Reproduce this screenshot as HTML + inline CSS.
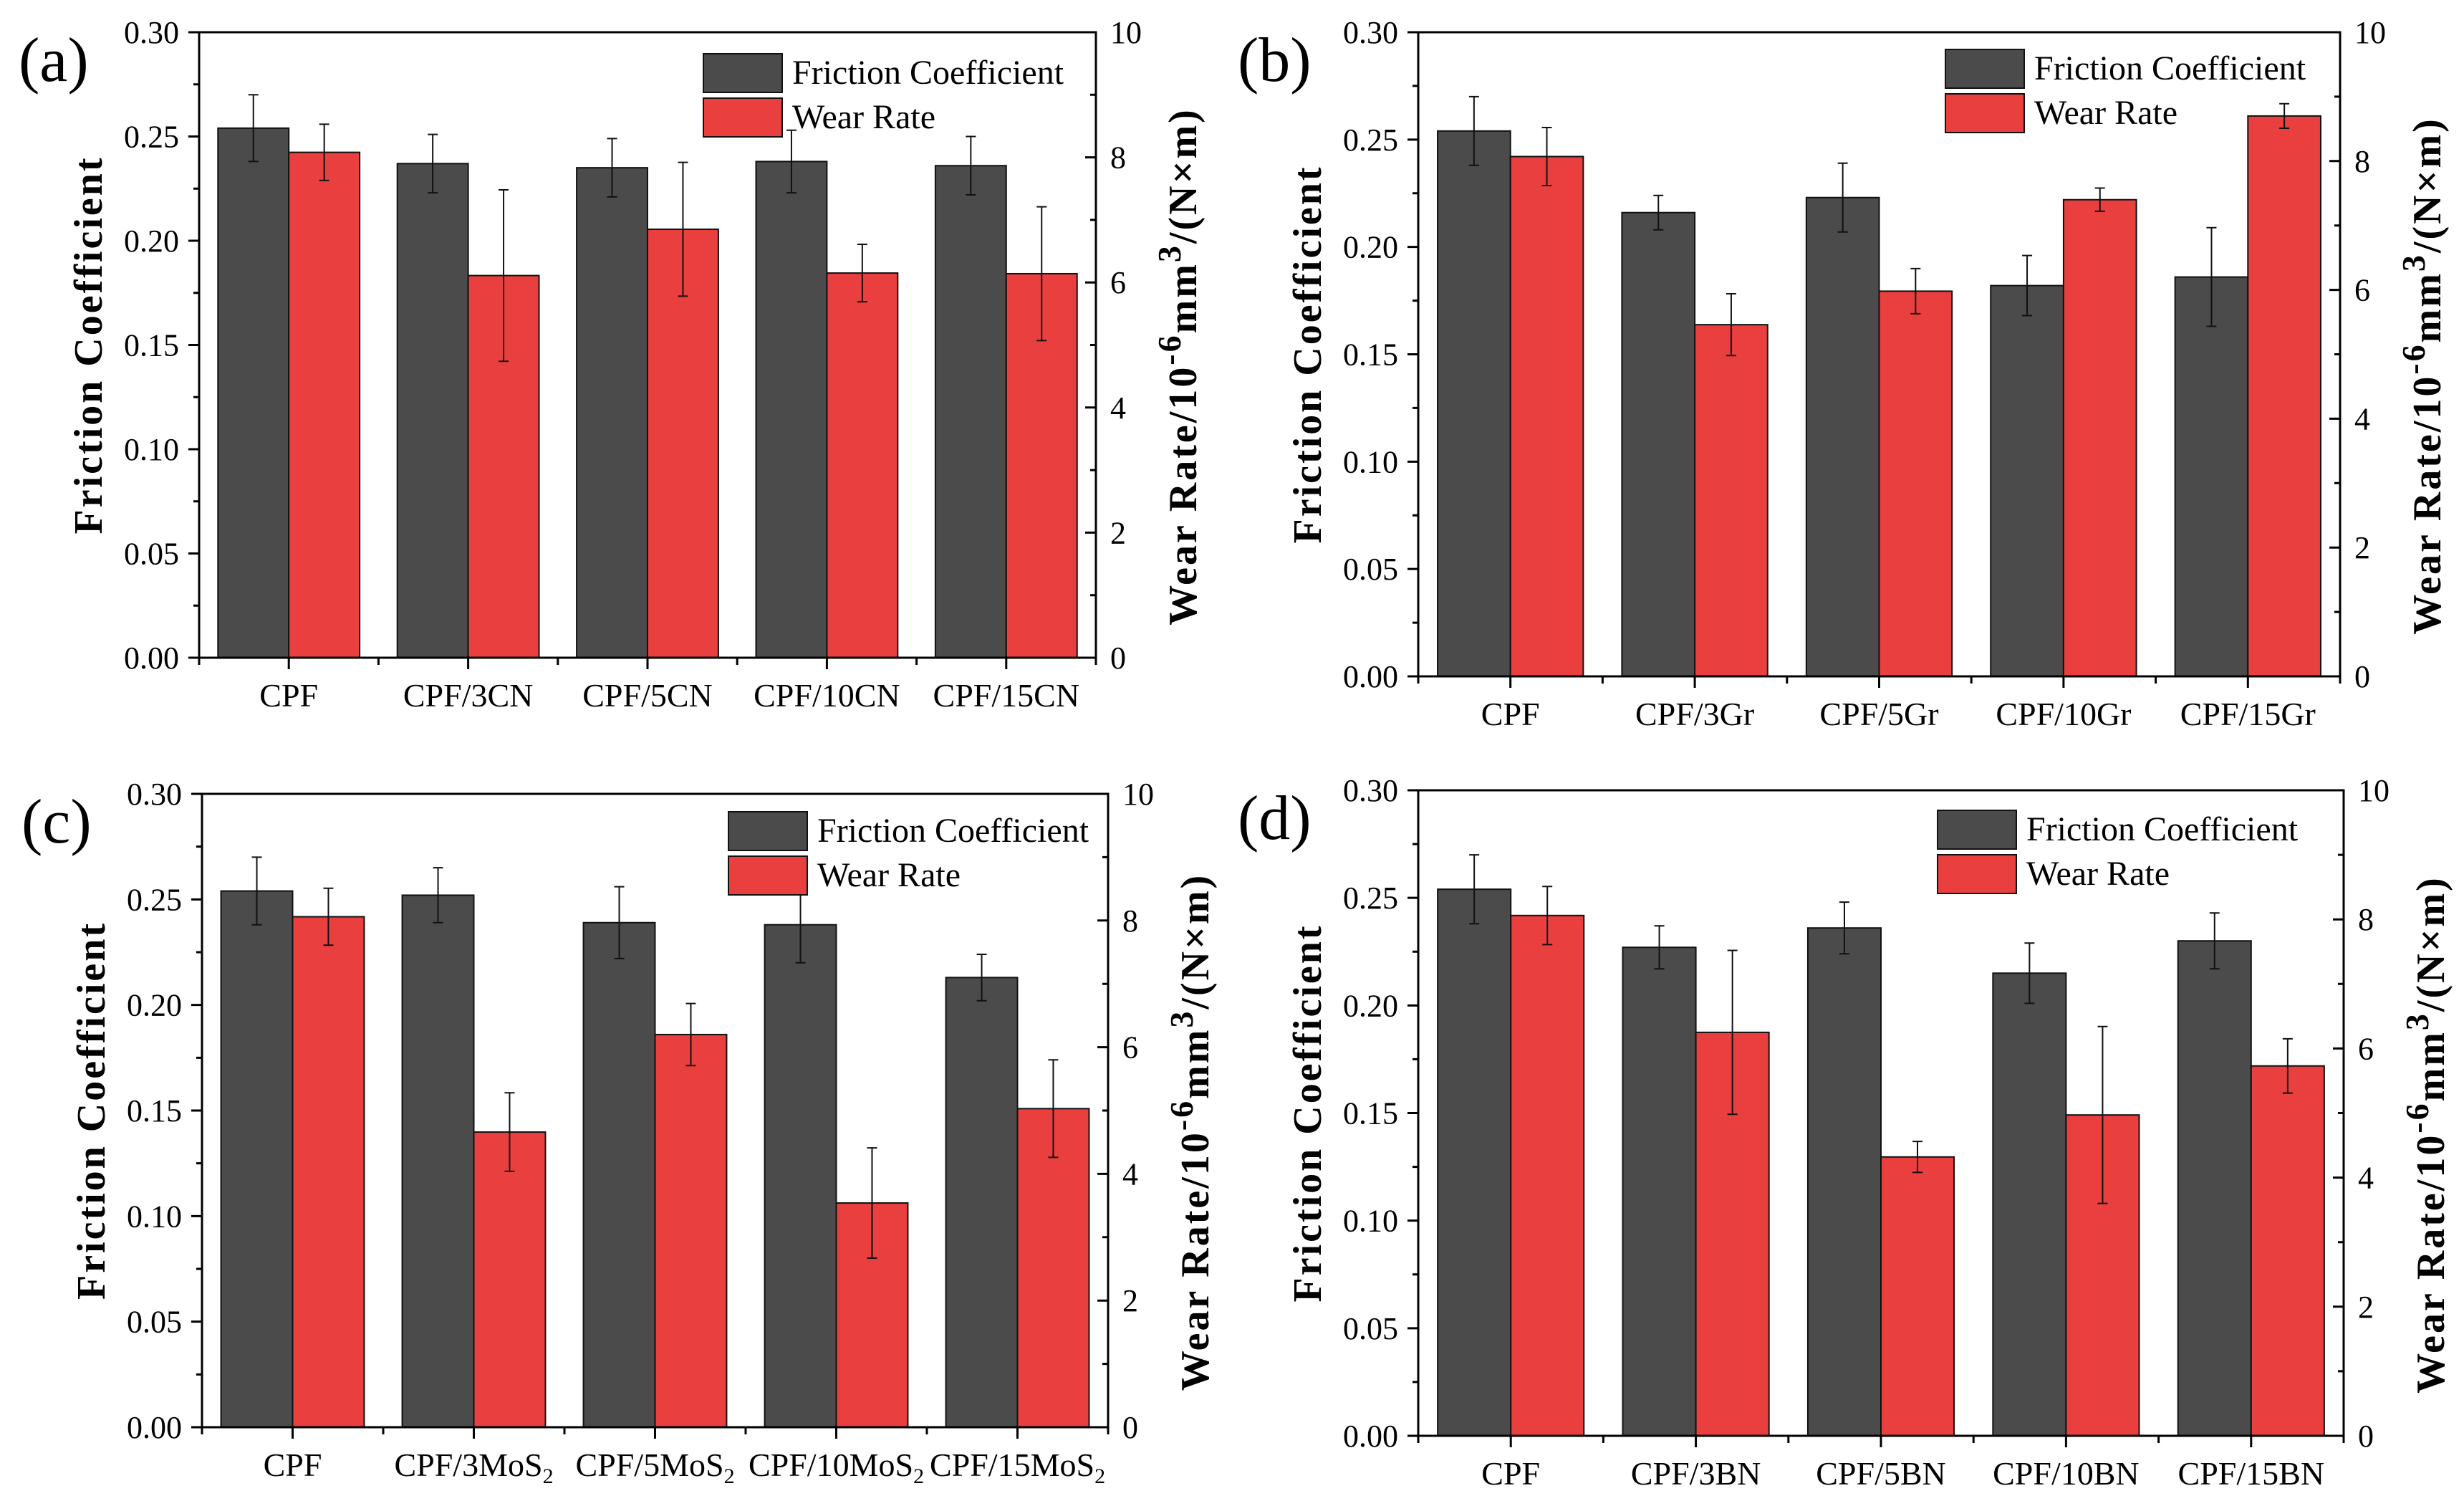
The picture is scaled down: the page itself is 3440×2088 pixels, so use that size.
<!DOCTYPE html>
<html><head><meta charset="utf-8">
<style>
html,body{margin:0;padding:0;background:#fff;}
svg{display:block;}
text{font-family:"Liberation Serif","DejaVu Serif",serif;fill:#000;}
</style></head>
<body>
<svg id="fig" width="3440" height="2088" viewBox="0 0 3440 2088" xmlns="http://www.w3.org/2000/svg">
<rect x="0" y="0" width="3440" height="2088" fill="#fff"/>
</svg>
<script>
// ---- data ----
const catsA = ["CPF","CPF/3CN","CPF/5CN","CPF/10CN","CPF/15CN"];
const catsB = ["CPF","CPF/3Gr","CPF/5Gr","CPF/10Gr","CPF/15Gr"];
const catsC = ["CPF","CPF/3MoS2","CPF/5MoS2","CPF/10MoS2","CPF/15MoS2"];
const catsD = ["CPF","CPF/3BN","CPF/5BN","CPF/10BN","CPF/15BN"];

const fcA = [0.254,0.237,0.235,0.238,0.236];
const fcErrA = [0.016,0.014,0.014,0.015,0.014];
const wrA = [8.08,6.11,6.85,6.15,6.14];
const wrErrA = [0.45,1.37,1.07,0.46,1.07];

const fcB = [0.254,0.216,0.223,0.182,0.186];
const fcErrB = [0.016,0.008,0.016,0.014,0.023];
const wrB = [8.07,5.46,5.98,7.40,8.70];
const wrErrB = [0.45,0.48,0.35,0.18,0.19];

const fcC = [0.254,0.252,0.239,0.238,0.213];
const fcErrC = [0.016,0.013,0.017,0.018,0.011];
const wrC = [8.06,4.66,6.20,3.54,5.03];
const wrErrC = [0.45,0.62,0.49,0.87,0.77];

const fcD = [0.254,0.227,0.236,0.215,0.230];
const fcErrD = [0.016,0.010,0.012,0.014,0.013];
const wrD = [8.06,6.25,4.32,4.97,5.73];
const wrErrD = [0.45,1.27,0.24,1.37,0.42];

const leftTicks = ["0.00","0.05","0.10","0.15","0.20","0.25","0.30"];
const rightTicks = ["0","2","4","6","8","10"];

// ---- drawing ----
const NS = "http://www.w3.org/2000/svg";
const svg = document.getElementById('fig');
function mk(tag, attrs, parent){
  const e = document.createElementNS(NS, tag);
  for (const k in attrs) e.setAttribute(k, attrs[k]);
  (parent||svg).appendChild(e);
  return e;
}
const DARK = "#4b4b4b", RED = "#ea3f3f";

function catLabel(g, txt, x, y){
  const t = mk('text', {x:x, y:y, 'text-anchor':'middle', 'font-size':46}, g);
  
  
  const m = txt.match(/^(.*MoS)2$/);
  if (m){
    t.appendChild(document.createTextNode(m[1]));
    const s = mk('tspan', {'font-size':30, dy:10}, t);
    s.textContent = '2';
  } else t.textContent = txt;
}

function panel(id, L, R, T, B, letter, cats, fc, fcErr, wr, wrErr, legX, legY){
  const g = mk('g', {});
  
  
  const W = R - L, H = B - T;
  const yFC = v => B - v / 0.30 * H;
  const yWR = v => B - v / 10 * H;
  const gw = W / cats.length;
  const bw = gw * 0.395;

  cats.forEach((c, i) => {
    const cx = L + gw * (i + 0.5);
    const r1 = mk('rect', {x:cx - bw, y:yFC(fc[i]), width:bw, height:B - yFC(fc[i]), fill:DARK, stroke:'#111', 'stroke-width':2}, g);
    
    
    const r2 = mk('rect', {x:cx, y:yWR(wr[i]), width:bw, height:B - yWR(wr[i]), fill:RED, stroke:'#111', 'stroke-width':2}, g);
    
    
    const ex1 = cx - bw / 2, ex2 = cx + bw / 2;
    const e1 = mk('path', {d:`M${ex1},${yFC(fc[i]+fcErr[i])}V${yFC(fc[i]-fcErr[i])}M${ex1-7},${yFC(fc[i]+fcErr[i])}h14M${ex1-7},${yFC(fc[i]-fcErr[i])}h14`, stroke:'#111', 'stroke-width':2, fill:'none'}, g);
    
    
    const e2 = mk('path', {d:`M${ex2},${yWR(wr[i]+wrErr[i])}V${yWR(wr[i]-wrErr[i])}M${ex2-7},${yWR(wr[i]+wrErr[i])}h14M${ex2-7},${yWR(wr[i]-wrErr[i])}h14`, stroke:'#111', 'stroke-width':2, fill:'none'}, g);
    
    
    catLabel(g, c, cx, B + 68);
  });

  const fr = mk('rect', {x:L, y:T, width:W, height:H, fill:'none', stroke:'#000', 'stroke-width':3}, g);
  
  

  let d = '';
  leftTicks.forEach((t, i) => {
    const v = parseFloat(t), y = yFC(v);
    d += `M${L-15},${y}H${L}`;
    if (i < leftTicks.length - 1) d += `M${L-8},${yFC(v+0.025)}H${L}`;
    const tl = mk('text', {x:L - 28, y:y + 15, 'text-anchor':'end', 'font-size':44}, g);
    
    
    tl.textContent = t;
  });
  rightTicks.forEach((t, i) => {
    const v = parseFloat(t), y = yWR(v);
    d += `M${R-15},${y}H${R}`;
    if (i < rightTicks.length - 1) d += `M${R-8},${yWR(v+1)}H${R}`;
    const tl = mk('text', {x:R + 20, y:y + 15, 'text-anchor':'start', 'font-size':44}, g);
    
    
    tl.textContent = t;
  });
  for (let i = 0; i <= cats.length; i++){
    d += `M${L + gw*i},${B}v10`;
    if (i < cats.length) d += `M${L + gw*(i+0.5)},${B}v16`;
  }
  const tk = mk('path', {d:d, stroke:'#000', 'stroke-width':3, fill:'none'}, g);
  
  

  const cy = (T + B) / 2;
  const lt = mk('text', {x:0, y:0, 'text-anchor':'middle', 'font-size':56, 'font-weight':'bold', 'letter-spacing':'3', transform:`translate(${L-136},${cy}) rotate(-90)`}, g);
  
  
  lt.textContent = 'Friction Coefficient';

  const rt = mk('text', {x:0, y:0, 'text-anchor':'middle', 'font-size':56, 'font-weight':'bold', 'letter-spacing':'3', transform:`translate(${R+140},${cy+30}) rotate(-90)`}, g);
  
  
  rt.appendChild(document.createTextNode('Wear Rate/10'));
  const s1 = mk('tspan', {dy:-22, 'font-size':46}, rt); s1.textContent = '-6';
  const s2 = mk('tspan', {dy:22}, rt); s2.textContent = 'mm';
  const s3 = mk('tspan', {dy:-22, 'font-size':46}, rt); s3.textContent = '3';
  const s4 = mk('tspan', {dy:22}, rt); s4.textContent = '/(N×m)';

  const pl = mk('text', {x:L - 252, y:T + 68, 'font-size':88}, g);
  
  
  pl.textContent = '(' + letter + ')';

  const lg = mk('g', {}, g);
  
  
  const k1 = mk('rect', {x:legX, y:legY, width:110, height:54, fill:DARK, stroke:'#111', 'stroke-width':2}, lg);
  
  
  const k2 = mk('rect', {x:legX, y:legY + 62, width:110, height:54, fill:RED, stroke:'#111', 'stroke-width':2}, lg);
  
  
  const t1 = mk('text', {x:legX + 124, y:legY + 42, 'font-size':48}, lg);
  
  
  t1.textContent = 'Friction Coefficient';
  const t2 = mk('text', {x:legX + 124, y:legY + 104, 'font-size':48}, lg);
  
  
  t2.textContent = 'Wear Rate';
}

panel('a', 278, 1530, 45, 918, 'a', catsA, fcA, fcErrA, wrA, wrErrA, 982, 75);
panel('b', 1980, 3267, 45, 944, 'b', catsB, fcB, fcErrB, wrB, wrErrB, 2716, 69);
panel('c', 282, 1547, 1108, 1992, 'c', catsC, fcC, fcErrC, wrC, wrErrC, 1017, 1133);
panel('d', 1980, 3272, 1103, 2004, 'd', catsD, fcD, fcErrD, wrD, wrErrD, 2705, 1131);
</script>
</body></html>
